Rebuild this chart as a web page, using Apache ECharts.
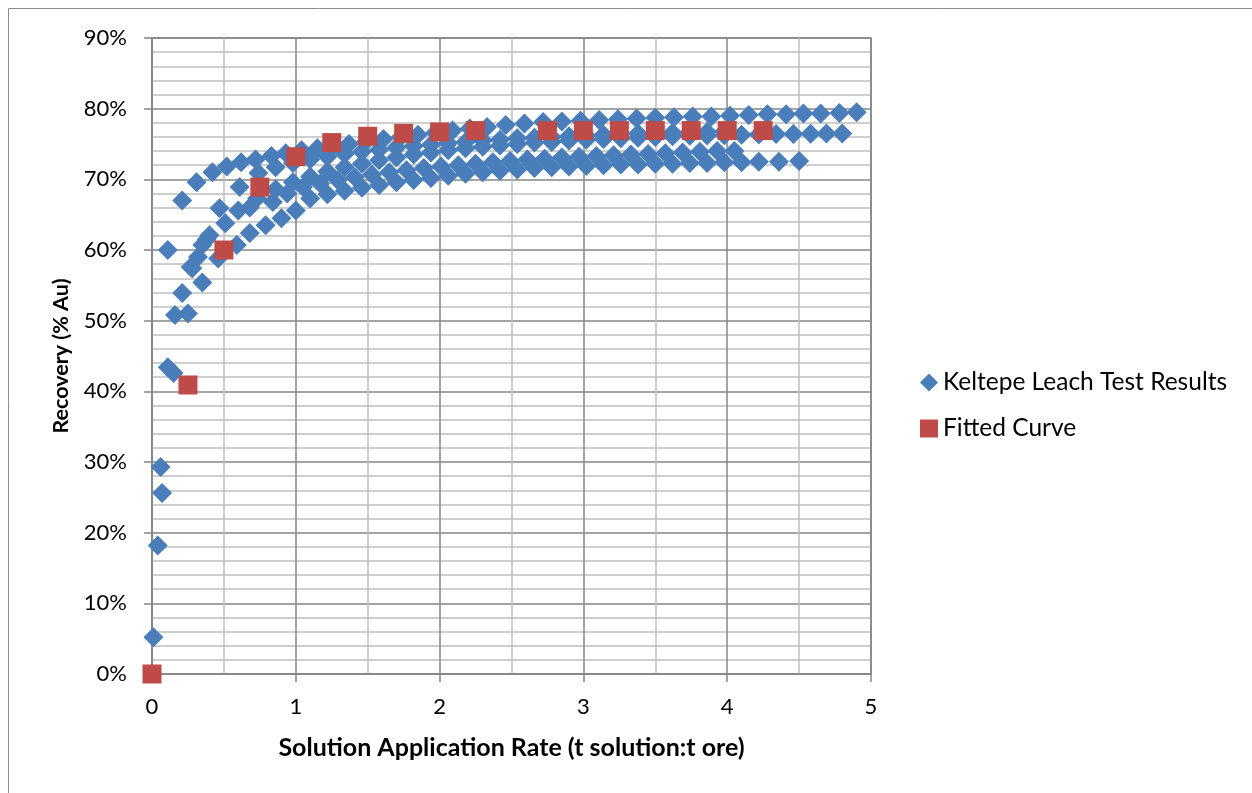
<!DOCTYPE html>
<html>
<head>
<meta charset="utf-8">
<script src="https://cdn.jsdelivr.net/npm/echarts@6/dist/echarts.min.js"></script>
<style>
html, body { margin: 0; padding: 0; background: #fff; }
#chart { width: 1252px; height: 793px; }
</style>
</head>
<body>
<div id="chart"></div>
<script>
// leach test columns, [t solution:t ore, recovery %]
var testA = [[0.11,60.0],[0.21,67.0],[0.31,69.6],[0.42,71.0],[0.52,71.8],[0.62,72.4],[0.72,72.8],[0.83,73.3],[0.93,73.7],[1.04,74.1],[1.15,74.4],[1.26,74.7],[1.37,75.0],[1.49,75.4],[1.61,75.7],[1.73,76.0],[1.85,76.3],[1.97,76.6],[2.09,76.9],[2.21,77.2],[2.33,77.4],[2.46,77.7],[2.59,77.9],[2.72,78.1],[2.85,78.2],[2.98,78.3],[3.11,78.4],[3.24,78.5],[3.37,78.6],[3.5,78.7],[3.63,78.8],[3.76,78.9],[3.89,78.9],[4.02,79.0],[4.15,79.1],[4.28,79.2],[4.41,79.2],[4.53,79.3],[4.65,79.3],[4.78,79.4],[4.9,79.5]];
var testB = [[0.01,5.2],[0.11,43.4],[0.21,53.9],[0.32,59.0],[0.4,62.1],[0.6,65.6],[0.73,67.3],[0.86,68.6],[0.98,69.6],[1.1,70.4],[1.22,71.1],[1.34,71.7],[1.46,72.2],[1.58,72.7],[1.7,73.1],[1.82,73.5],[1.94,73.8],[2.06,74.1],[2.18,74.4],[2.3,74.6],[2.42,74.8],[2.54,75.0],[2.66,75.2],[2.78,75.3],[2.9,75.5],[3.02,75.6],[3.14,75.7],[3.26,75.8],[3.38,75.9],[3.5,76.0],[3.62,76.1],[3.74,76.15],[3.86,76.2],[3.98,76.25],[4.1,76.3],[4.22,76.35],[4.34,76.4],[4.46,76.4],[4.58,76.45],[4.69,76.5],[4.8,76.5]];
var testC = [[0.04,18.2],[0.15,42.6],[0.25,51.0],[0.35,55.4],[0.46,58.8],[0.59,60.7],[0.68,62.4],[0.79,63.5],[0.9,64.5],[1.0,65.6],[1.1,67.3],[1.22,67.9],[1.34,68.4],[1.46,68.8],[1.58,69.2],[1.7,69.6],[1.82,69.9],[1.94,70.2],[2.06,70.5],[2.18,70.8],[2.3,71.0],[2.42,71.2],[2.54,71.4],[2.66,71.6],[2.78,71.7],[2.9,71.8],[3.02,71.9],[3.14,72.0],[3.26,72.1],[3.38,72.1],[3.5,72.2],[3.62,72.2],[3.74,72.3],[3.86,72.3],[3.98,72.4],[4.1,72.4],[4.22,72.5],[4.36,72.5],[4.5,72.6]];
var testD = [[0.06,29.3],[0.16,50.8],[0.27,57.6],[0.38,61.5],[0.47,65.9],[0.61,68.9],[0.74,70.9],[0.86,71.7],[0.98,72.3],[1.1,72.8],[1.22,73.2],[1.34,73.6],[1.46,73.9],[1.58,74.2],[1.7,74.5],[1.82,74.7],[1.94,74.9],[2.06,75.1],[2.18,75.3],[2.3,75.5],[2.42,75.6],[2.54,75.8],[2.66,75.9],[2.78,76.0],[2.9,76.1],[3.02,76.2],[3.14,76.3],[3.26,76.4],[3.38,76.5],[3.5,76.6],[3.62,76.6],[3.74,76.7],[3.86,76.7],[3.98,76.8]];
var testE = [[0.07,25.6],[0.28,57.4],[0.35,60.7],[0.51,63.8],[0.68,66.0],[0.84,66.8],[0.94,68.0],[1.05,68.9],[1.17,69.4],[1.29,69.9],[1.41,70.3],[1.53,70.7],[1.65,71.0],[1.77,71.3],[1.89,71.6],[2.01,71.8],[2.13,72.0],[2.25,72.2],[2.37,72.4],[2.49,72.6],[2.61,72.8],[2.73,72.9],[2.85,73.1],[2.97,73.2],[3.09,73.3],[3.21,73.4],[3.33,73.5],[3.45,73.6],[3.57,73.7],[3.69,73.8],[3.81,73.9],[3.93,74.0],[4.05,74.0]];

// fitted curve
var fitX = [0, 0.25, 0.5, 0.75, 1, 1.25, 1.5, 1.75, 2, 2.25, 2.75, 3, 3.25, 3.5, 3.75, 4, 4.25];
var fitY = [0, 40.9, 60.0, 68.9, 73.2, 75.2, 76.1, 76.5, 76.7, 76.9, 76.9, 76.9, 76.9, 76.9, 76.9, 76.9, 76.9];

var seriesNames = ['Keltepe Leach Test Results', 'Fitted Curve'];

var testData = testA.concat(testB, testC, testD, testE);
var fitData = fitX.map(function(x, i) { return [x, fitY[i]]; });

var chart = echarts.init(document.getElementById('chart'));
var font = 'Lato';

chart.setOption({
	animation: false,
	color: ['#4A7EBB', '#BE4B48'],
	graphic: [{
		type: 'rect',
		shape: { x: 8.5, y: 8.5, width: 1300, height: 900 },
		style: { fill: 'none', stroke: '#8c8c8c', lineWidth: 1 }
	}],
	grid: {
		left: 152,
		top: 38,
		width: 719,
		height: 636,
		show: true,
		borderColor: '#868686',
		borderWidth: 1.5,
		backgroundColor: 'transparent'
	},
	legend: {
		orient: 'vertical',
		left: 915,
		top: 365,
		itemWidth: 18,
		itemHeight: 18,
		itemGap: 21,
		textStyle: { fontFamily: font, fontSize: 24.5, color: '#000' },
		data: [
			{ name: seriesNames[0], icon: 'diamond' },
			{ name: seriesNames[1], icon: 'rect' }
		]
	},
	xAxis: {
		type: 'value',
		min: 0,
		max: 5,
		interval: 1,
		name: 'Solution Application Rate (t solution:t ore)',
		nameLocation: 'middle',
		nameGap: 61,
		nameTextStyle: { fontFamily: font, fontSize: 25, fontWeight: 'bold', color: '#000' },
		axisLine: { show: true, onZero: false, lineStyle: { color: '#868686', width: 1.5 } },
		axisTick: { show: true, length: 8, lineStyle: { color: '#868686', width: 1.5 } },
		axisLabel: { fontFamily: font, fontSize: 22, color: '#000', margin: 22 },
		splitLine: { show: true, lineStyle: { color: '#868686', width: 1.5 } },
		minorTick: { show: false, splitNumber: 2 },
		minorSplitLine: { show: true, lineStyle: { color: '#bfbfbf', width: 1.5 } }
	},
	yAxis: {
		type: 'value',
		min: 0,
		max: 90,
		interval: 10,
		name: 'Recovery (% Au)',
		nameLocation: 'middle',
		nameGap: 80,
		nameTextStyle: { fontFamily: font, fontSize: 21.5, fontWeight: 'bold', color: '#000' },
		axisLine: { show: true, lineStyle: { color: '#868686', width: 1.5 } },
		axisTick: { show: true, length: 8, lineStyle: { color: '#868686', width: 1.5 } },
		axisLabel: { fontFamily: font, fontSize: 22, color: '#000', margin: 25, formatter: '{value}%' },
		splitLine: { show: true, lineStyle: { color: '#868686', width: 1.5 } },
		minorTick: { show: false, splitNumber: 5 },
		minorSplitLine: { show: true, lineStyle: { color: '#bfbfbf', width: 1.5 } }
	},
	series: [{
		name: seriesNames[0],
		type: 'scatter',
		symbol: 'diamond',
		symbolSize: 20,
		itemStyle: { opacity: 1 },
		data: testData
	}, {
		name: seriesNames[1],
		type: 'scatter',
		symbol: 'rect',
		symbolSize: 19,
		itemStyle: { opacity: 1 },
		data: fitData
	}]
});
</script>
</body>
</html>
